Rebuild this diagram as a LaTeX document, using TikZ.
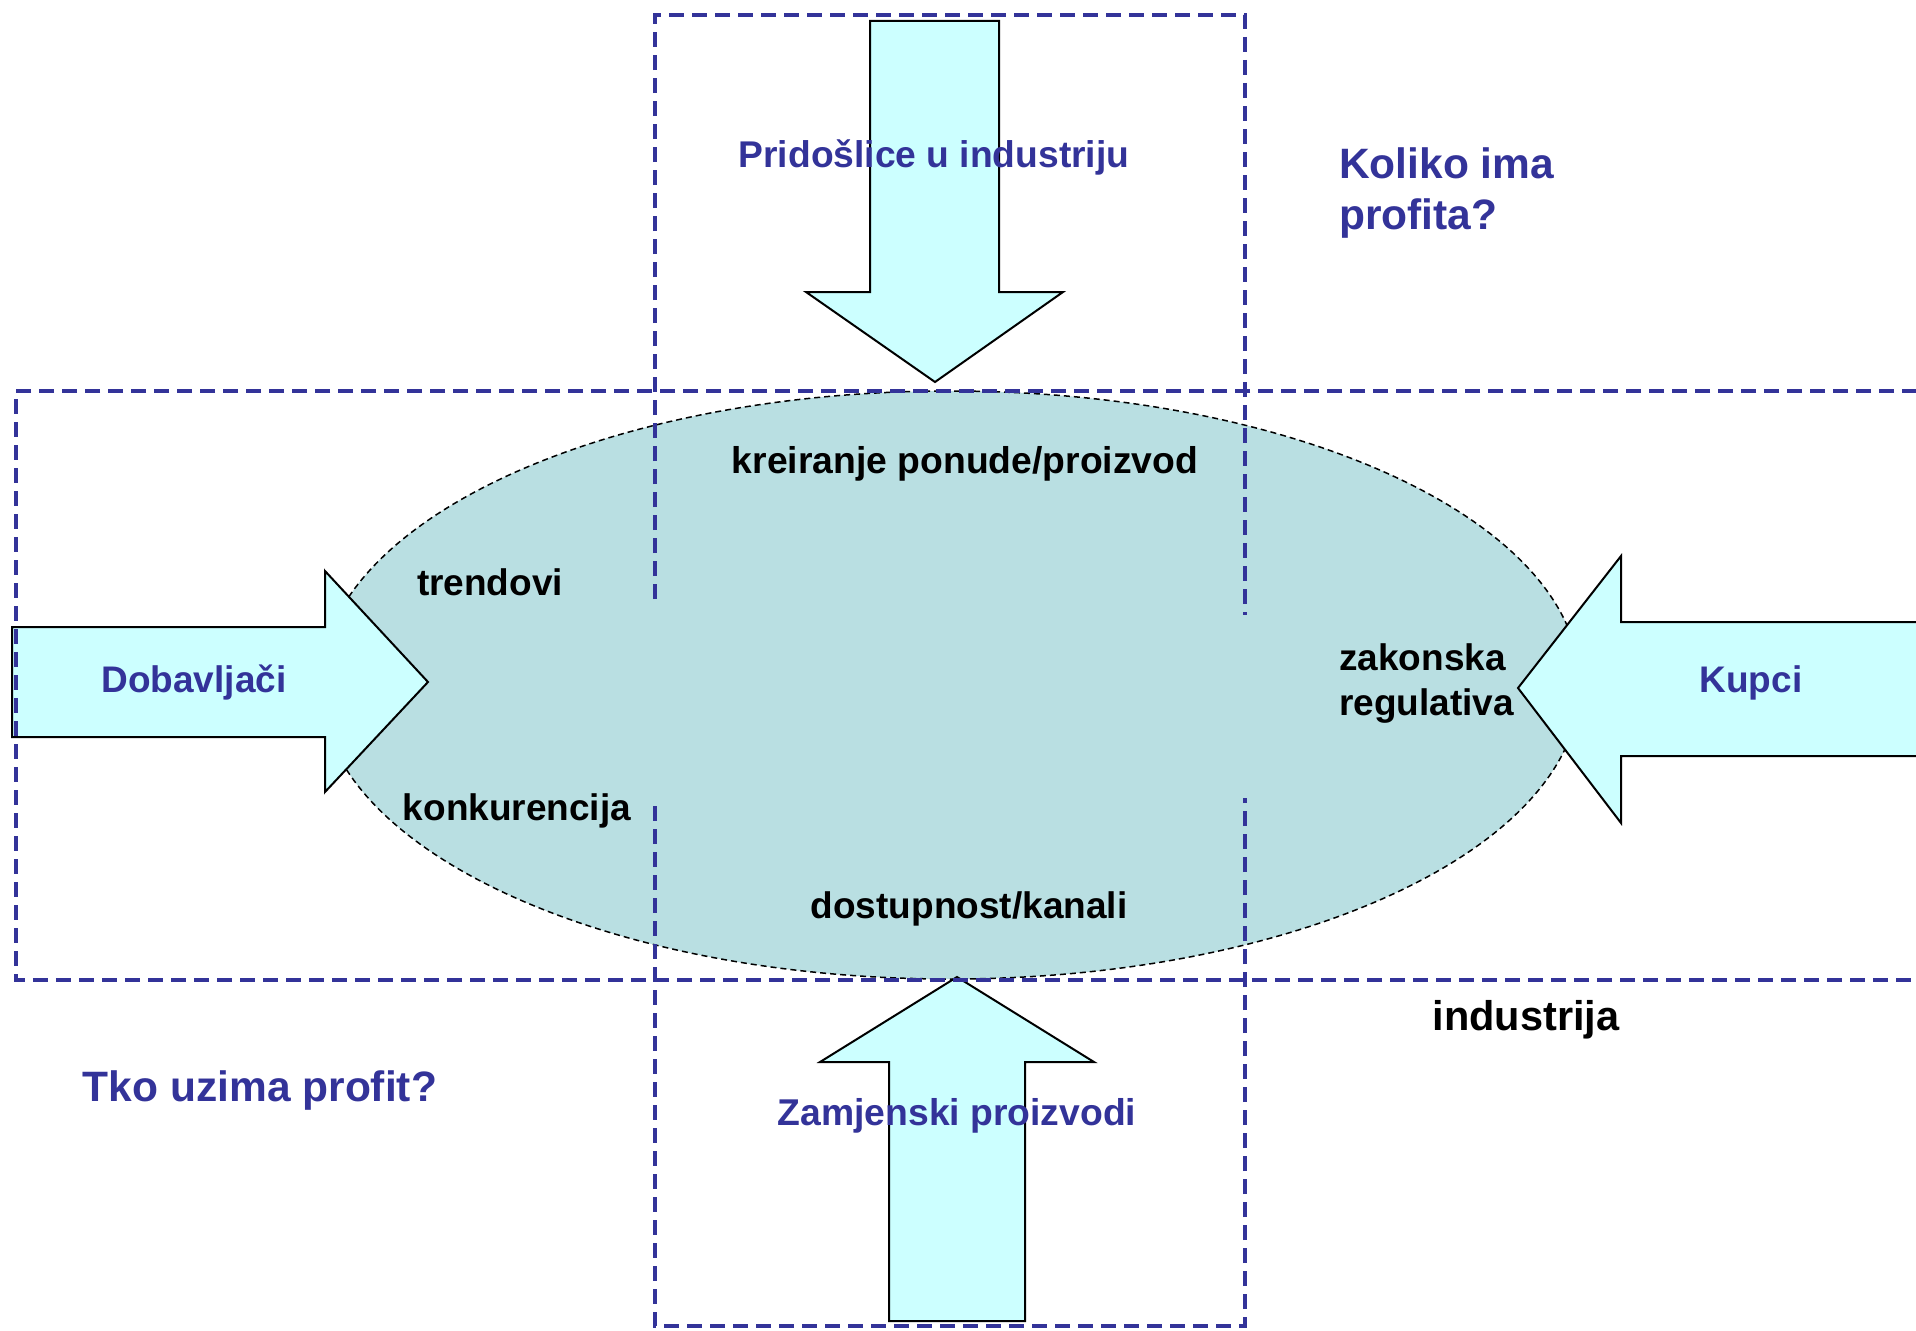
\documentclass[tikz,border=0pt]{standalone}
\usepackage{fontspec}
\setmainfont{Liberation Sans}
\definecolor{navy}{HTML}{333399}
\definecolor{ellfill}{HTML}{B9DFE2}
\definecolor{arrfill}{HTML}{CCFFFF}
\begin{document}
\begin{tikzpicture}[x=1pt,y=-1pt,
  bigarrow/.style={draw=black, line width=2pt, fill=arrfill, line join=miter},
  zone/.style={draw=navy, line width=3.2pt, dash pattern=on 15pt off 8pt},
  core/.style={draw=black, line width=1.5pt, dash pattern=on 6pt off 4pt, fill=ellfill},
  lbl/.style={inner sep=0pt, anchor=base, font=\bfseries\fontsize{37}{44}\selectfont, text=black},
  bluelbl/.style={lbl, text=navy},
  biglbl/.style={lbl, font=\bfseries\fontsize{42.5}{50}\selectfont},
  bigblue/.style={biglbl, text=navy}
]
\useasboundingbox (0,0) rectangle (1916,1330);
\clip (0,0) rectangle (1916,1330);
\fill[white] (0,0) rectangle (1916,1330);

% central ellipse
\path[core] (950,685) ellipse [x radius=630pt, y radius=294pt];

% force arrows
\draw[bigarrow] (870,21) -- (999,21) -- (999,292) -- (1063,292) -- (935,382) -- (806,292) -- (870,292) -- cycle;
\draw[bigarrow] (889,1321) -- (1025,1321) -- (1025,1062) -- (1094,1062) -- (957,977) -- (820,1062) -- (889,1062) -- cycle;
\draw[bigarrow] (12,627) -- (325,627) -- (325,571) -- (428,682) -- (325,792) -- (325,737) -- (12,737) -- cycle;
\draw[bigarrow] (1940,622) -- (1621,622) -- (1621,556) -- (1518,688) -- (1621,823) -- (1621,756) -- (1940,756);

% dashed zones
\draw[zone] (1940,391) -- (16,391) -- (16,980) -- (1940,980);
\draw[zone] (655,599) -- (655,15) -- (1245,15) -- (1245,615);
\draw[zone] (655,806) -- (655,1326) -- (1245,1326) -- (1245,798);

% labels
\node[bluelbl, font=\bfseries\fontsize{37.2}{45}\selectfont] (entrants) at (934,167) {Pridošlice u industriju};
\node[bluelbl] (suppliers) at (194,692) {Dobavljači};
\node[bluelbl] (buyers) at (1751,692) {Kupci};
\node[bluelbl, font=\bfseries\fontsize{37.3}{44}\selectfont] (substitutes) at (957,1125) {Zamjenski proizvodi};

\node[lbl, font=\bfseries\fontsize{37.3}{44}\selectfont] (offer) at (965,473) {kreiranje ponude/proizvod};
\node[lbl] (trends) at (490,595) {trendovi};
\node[lbl] (rivals) at (517,820) {konkurencija};
\node[lbl] (access) at (969,918) {dostupnost/kanali};
\node[lbl, anchor=base west] (law1) at (1339,670) {zakonska};
\node[lbl, anchor=base west] (law2) at (1339,715) {regulativa};

\node[bigblue, anchor=base west] (q1a) at (1339,178) {Koliko ima};
\node[bigblue, anchor=base west] (q1b) at (1339,229) {profita?};
\node[bigblue] (q2) at (260,1101) {Tko uzima profit?};
\node[biglbl, font=\bfseries\fontsize{41.5}{50}\selectfont] (industry) at (1526,1030) {industrija};
\end{tikzpicture}
\end{document}
